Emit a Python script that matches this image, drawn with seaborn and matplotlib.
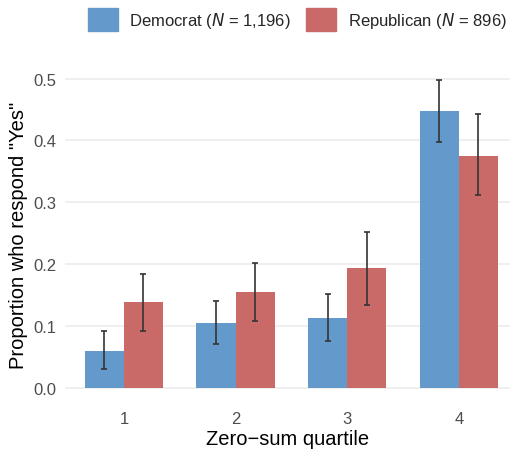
import matplotlib
matplotlib.use("Agg")
import matplotlib.pyplot as plt
import matplotlib.patches as mpatches
import numpy as np
import pandas as pd
import seaborn as sns

# dados
quartis = ["1", "2", "3", "4"]
partidos = ["Democrat", "Republican"]
rotulos = ["Democrat ($\\mathit{N}$ = 1,196)", "Republican ($\\mathit{N}$ = 896)"]
dem_prop = [0.060, 0.105, 0.113, 0.447]
dem_low = [0.030, 0.070, 0.076, 0.398]
dem_high = [0.091, 0.141, 0.152, 0.497]
rep_prop = [0.138, 0.154, 0.193, 0.375]
rep_low = [0.092, 0.108, 0.134, 0.311]
rep_high = [0.184, 0.201, 0.252, 0.442]

cores = {"Democrat": "#6399CB", "Republican": "#C96A69"}

df = pd.DataFrame({
    "quartil": quartis * 2,
    "partido": ["Democrat"] * 4 + ["Republican"] * 4,
    "prop": dem_prop + rep_prop,
    "low": dem_low + rep_low,
    "high": dem_high + rep_high,
})

sns.set_theme(style="whitegrid")
plt.rcParams["font.family"] = ["Liberation Sans", "DejaVu Sans"]

fig = plt.figure(figsize=(5.18, 4.52), dpi=100)
ax = fig.add_axes([0.125, 0.106, 0.86, 0.748])

sns.barplot(data=df, x="quartil", y="prop", hue="partido", order=quartis,
            hue_order=partidos, palette=cores, width=0.7, errorbar=None,
            saturation=1, linewidth=0, ax=ax)

# barras de erro nos centros das barras
for i, p in enumerate(partidos):
    sub = df[df["partido"] == p]
    cont = ax.containers[i]
    xs = [b.get_x() + b.get_width() / 2 for b in cont]
    ax.errorbar(xs, sub["prop"], yerr=[sub["prop"] - sub["low"], sub["high"] - sub["prop"]],
                fmt="none", ecolor="#333333", elinewidth=1.2, capsize=2.3, capthick=1.2)

ax.set_ylim(-0.0249, 0.522)
ax.set_xlim(-0.53, 3.46)
ax.set_yticks([0, 0.1, 0.2, 0.3, 0.4, 0.5])
ax.set_yticklabels(["0.0", "0.1", "0.2", "0.3", "0.4", "0.5"])
ax.grid(axis="y", color="#EBEBEB", linewidth=1.1)
ax.grid(axis="x", visible=False)
for s in ax.spines.values():
    s.set_visible(False)
ax.tick_params(axis="both", labelsize=12, labelcolor="#4D4D4D", length=0, pad=6)
ax.set_xlabel("Zero\u2212sum quartile", fontsize=14.5, color="black", labelpad=2)
ax.set_ylabel('Proportion who respond "Yes"', fontsize=14.5, color="black", labelpad=4)

if ax.get_legend() is not None:
    ax.get_legend().remove()
handles = [mpatches.Patch(color=cores[p], label=r) for p, r in zip(partidos, rotulos)]
fig.legend(handles=handles, loc="center", bbox_to_anchor=(0.574, 0.955), ncol=2,
           frameon=False, fontsize=12, handlelength=1.8, handleheight=1.8,
           columnspacing=0.9, handletextpad=0.7)

fig.savefig("out.png", dpi=100)
